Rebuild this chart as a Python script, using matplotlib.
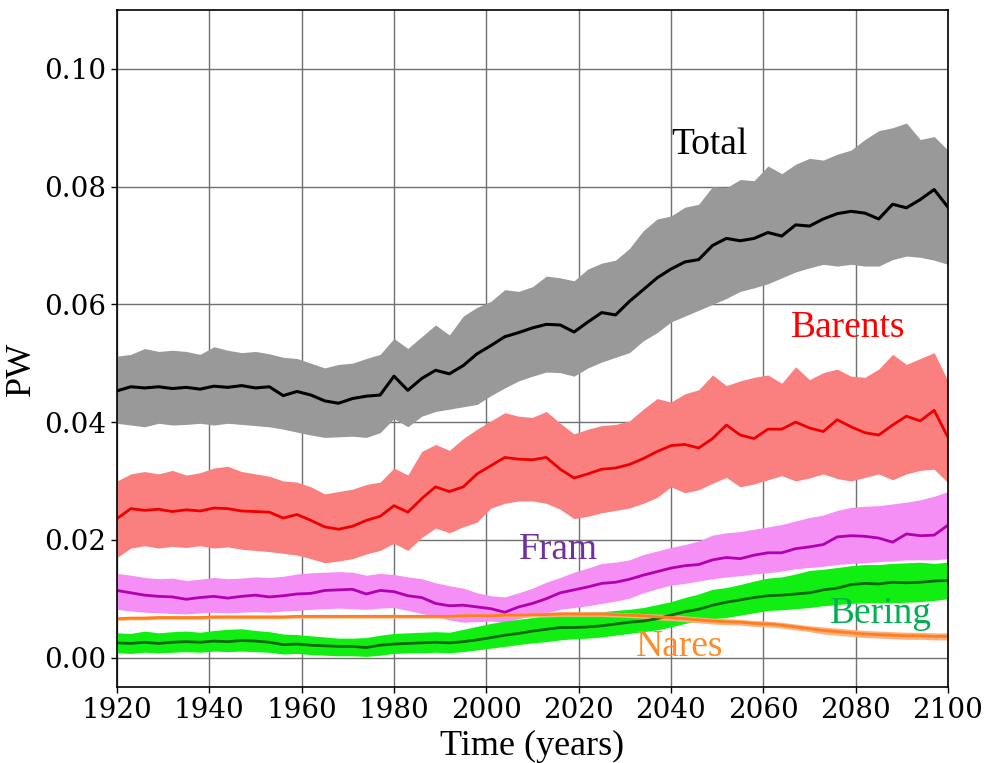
import numpy as np
import matplotlib.pyplot as plt

# years sampled every 3 years, 1920-2100
years = np.arange(1920, 2101, 3)

total_mean = [0.0453, 0.0460, 0.0458, 0.0460, 0.0457, 0.0459, 0.0456, 0.0461, 0.0459, 0.0462,
              0.0458, 0.0460, 0.0445, 0.0452, 0.0446, 0.0436, 0.0432, 0.0440, 0.0444, 0.0446,
              0.0478, 0.0454, 0.0474, 0.0488, 0.0482, 0.0496, 0.0516, 0.0530, 0.0545, 0.0552,
              0.0560, 0.0566, 0.0565, 0.0553, 0.0570, 0.0586, 0.0582, 0.0605, 0.0625, 0.0645,
              0.0660, 0.0672, 0.0676, 0.0700, 0.0712, 0.0708, 0.0712, 0.0722, 0.0716, 0.0735,
              0.0733, 0.0745, 0.0754, 0.0758, 0.0755, 0.0745, 0.0770, 0.0764, 0.0778, 0.0795,
              0.0765]
total_hi = [0.0512, 0.0515, 0.0525, 0.0520, 0.0522, 0.0520, 0.0515, 0.0528, 0.0522, 0.0518,
            0.0520, 0.0516, 0.0510, 0.0508, 0.0500, 0.0492, 0.0498, 0.0500, 0.0508, 0.0515,
            0.0542, 0.0525, 0.0545, 0.0565, 0.0548, 0.0580, 0.0595, 0.0605, 0.0625, 0.0622,
            0.0630, 0.0648, 0.0645, 0.0640, 0.0660, 0.0670, 0.0675, 0.0695, 0.0725, 0.0745,
            0.0750, 0.0765, 0.0770, 0.0800, 0.0798, 0.0812, 0.0810, 0.0835, 0.0822, 0.0838,
            0.0848, 0.0845, 0.0855, 0.0862, 0.0880, 0.0895, 0.0900, 0.0908, 0.0880, 0.0885,
            0.0862]
total_lo = [0.0398, 0.0395, 0.0392, 0.0398, 0.0395, 0.0396, 0.0398, 0.0395, 0.0398, 0.0396,
            0.0394, 0.0392, 0.0388, 0.0383, 0.0378, 0.0374, 0.0375, 0.0376, 0.0374, 0.0382,
            0.0406, 0.0392, 0.0410, 0.0418, 0.0422, 0.0426, 0.0430, 0.0445, 0.0458, 0.0470,
            0.0478, 0.0485, 0.0484, 0.0478, 0.0492, 0.0502, 0.0510, 0.0518, 0.0538, 0.0552,
            0.0570, 0.0580, 0.0590, 0.0600, 0.0610, 0.0622, 0.0628, 0.0635, 0.0645, 0.0655,
            0.0662, 0.0668, 0.0665, 0.0668, 0.0665, 0.0665, 0.0676, 0.0682, 0.0680, 0.0675,
            0.0668]

barents_mean = [0.0236, 0.0253, 0.0250, 0.0252, 0.0248, 0.0251, 0.0249, 0.0254, 0.0253, 0.0249,
                0.0248, 0.0247, 0.0237, 0.0243, 0.0233, 0.0222, 0.0218, 0.0223, 0.0233, 0.0240,
                0.0258, 0.0247, 0.0270, 0.0290, 0.0282, 0.0290, 0.0312, 0.0326, 0.0340, 0.0337,
                0.0336, 0.0340, 0.0320, 0.0305, 0.0312, 0.0320, 0.0322, 0.0328, 0.0338, 0.0350,
                0.0360, 0.0362, 0.0356, 0.0372, 0.0395, 0.0378, 0.0372, 0.0388, 0.0388, 0.0400,
                0.0390, 0.0384, 0.0404, 0.0392, 0.0382, 0.0378, 0.0395, 0.0410, 0.0402, 0.0420,
                0.0374]
barents_hi = [0.0300, 0.0312, 0.0316, 0.0312, 0.0318, 0.0310, 0.0314, 0.0322, 0.0325, 0.0316,
              0.0312, 0.0308, 0.0300, 0.0298, 0.0290, 0.0278, 0.0282, 0.0286, 0.0294, 0.0298,
              0.0322, 0.0310, 0.0350, 0.0362, 0.0352, 0.0372, 0.0388, 0.0402, 0.0416, 0.0410,
              0.0408, 0.0418, 0.0398, 0.0380, 0.0388, 0.0394, 0.0396, 0.0402, 0.0422, 0.0440,
              0.0434, 0.0448, 0.0455, 0.0480, 0.0462, 0.0470, 0.0476, 0.0480, 0.0466, 0.0494,
              0.0472, 0.0484, 0.0490, 0.0478, 0.0476, 0.0490, 0.0515, 0.0498, 0.0508, 0.0518,
              0.0470]
barents_lo = [0.0170, 0.0186, 0.0190, 0.0186, 0.0189, 0.0187, 0.0190, 0.0186, 0.0188, 0.0184,
              0.0182, 0.0180, 0.0177, 0.0174, 0.0168, 0.0161, 0.0164, 0.0168, 0.0176, 0.0182,
              0.0194, 0.0182, 0.0204, 0.0220, 0.0212, 0.0222, 0.0230, 0.0254, 0.0262, 0.0266,
              0.0266, 0.0262, 0.0252, 0.0236, 0.0240, 0.0246, 0.0250, 0.0254, 0.0262, 0.0272,
              0.0290, 0.0280, 0.0285, 0.0296, 0.0306, 0.0290, 0.0295, 0.0302, 0.0309, 0.0300,
              0.0305, 0.0312, 0.0304, 0.0300, 0.0306, 0.0312, 0.0302, 0.0312, 0.0318, 0.0320,
              0.0297]

fram_mean = [0.0114, 0.0110, 0.0106, 0.0104, 0.0103, 0.0099, 0.0102, 0.0104, 0.0101, 0.0104,
             0.0106, 0.0103, 0.0105, 0.0108, 0.0109, 0.0114, 0.0115, 0.0116, 0.0108, 0.0114,
             0.0112, 0.0105, 0.0102, 0.0092, 0.0088, 0.0089, 0.0086, 0.0083, 0.0077, 0.0086,
             0.0092, 0.0100, 0.0110, 0.0115, 0.0120, 0.0126, 0.0128, 0.0133, 0.0140, 0.0146,
             0.0152, 0.0156, 0.0158, 0.0166, 0.0170, 0.0168, 0.0174, 0.0178, 0.0178, 0.0185,
             0.0188, 0.0192, 0.0205, 0.0207, 0.0206, 0.0203, 0.0196, 0.0210, 0.0207, 0.0208,
             0.0225]
fram_hi = [0.0143, 0.0140, 0.0136, 0.0134, 0.0135, 0.0131, 0.0133, 0.0136, 0.0134, 0.0135,
           0.0137, 0.0136, 0.0138, 0.0142, 0.0144, 0.0145, 0.0146, 0.0145, 0.0140, 0.0143,
           0.0141, 0.0137, 0.0134, 0.0127, 0.0122, 0.0118, 0.0110, 0.0105, 0.0103, 0.0110,
           0.0118, 0.0128, 0.0136, 0.0145, 0.0152, 0.0160, 0.0162, 0.0166, 0.0175, 0.0181,
           0.0187, 0.0192, 0.0198, 0.0208, 0.0212, 0.0214, 0.0218, 0.0222, 0.0226, 0.0232,
           0.0238, 0.0242, 0.0250, 0.0255, 0.0257, 0.0258, 0.0261, 0.0264, 0.0268, 0.0274,
           0.0282]
fram_lo = [0.0082, 0.0079, 0.0077, 0.0076, 0.0075, 0.0074, 0.0076, 0.0077, 0.0076, 0.0077,
           0.0078, 0.0077, 0.0079, 0.0080, 0.0082, 0.0083, 0.0084, 0.0083, 0.0082, 0.0084,
           0.0085, 0.0080, 0.0075, 0.0069, 0.0064, 0.0060, 0.0061, 0.0062, 0.0060, 0.0066,
           0.0071, 0.0076, 0.0082, 0.0085, 0.0088, 0.0092, 0.0096, 0.0101, 0.0110, 0.0117,
           0.0123, 0.0126, 0.0130, 0.0134, 0.0137, 0.0139, 0.0142, 0.0144, 0.0147, 0.0151,
           0.0153, 0.0155, 0.0158, 0.0160, 0.0161, 0.0163, 0.0164, 0.0166, 0.0166, 0.0166,
           0.0168]

nares_mean = [0.0066, 0.0067, 0.0067, 0.0068, 0.0068, 0.0068, 0.0068, 0.0069, 0.0069, 0.0069,
              0.0069, 0.0069, 0.0069, 0.0070, 0.0070, 0.0070, 0.0070, 0.0070, 0.0070, 0.0070,
              0.0070, 0.0070, 0.0070, 0.0070, 0.0070, 0.0071, 0.0071, 0.0071, 0.0072, 0.0072,
              0.0073, 0.0073, 0.0074, 0.0074, 0.0074, 0.0074, 0.0073, 0.0072, 0.0071, 0.0069,
              0.0068, 0.0066, 0.0064, 0.0062, 0.0061, 0.0060, 0.0058, 0.0057, 0.0055, 0.0052,
              0.0049, 0.0046, 0.0044, 0.0042, 0.0040, 0.0039, 0.0038, 0.0037, 0.0037, 0.0036,
              0.0036]
nares_spread = [0.0003, 0.0003, 0.0003, 0.0003, 0.0003, 0.0003, 0.0003, 0.0003, 0.0003, 0.0003,
                0.0003, 0.0003, 0.0003, 0.0003, 0.0003, 0.0003, 0.0003, 0.0003, 0.0003, 0.0003,
                0.0003, 0.0003, 0.0003, 0.0003, 0.0003, 0.0003, 0.0003, 0.0003, 0.0003, 0.0004,
                0.0004, 0.0004, 0.0004, 0.0004, 0.0004, 0.0004, 0.0004, 0.0004, 0.0004, 0.0005,
                0.0005, 0.0005, 0.0005, 0.0005, 0.0005, 0.0005, 0.0005, 0.0005, 0.0005, 0.0005,
                0.0005, 0.0006, 0.0006, 0.0006, 0.0006, 0.0006, 0.0006, 0.0006, 0.0006, 0.0006,
                0.0006]

bering_mean = [0.0025, 0.0024, 0.0026, 0.0024, 0.0026, 0.0027, 0.0026, 0.0028, 0.0027, 0.0029,
               0.0028, 0.0026, 0.0022, 0.0023, 0.0021, 0.0020, 0.0019, 0.0019, 0.0017, 0.0021,
               0.0023, 0.0024, 0.0025, 0.0026, 0.0025, 0.0027, 0.0030, 0.0034, 0.0038, 0.0041,
               0.0045, 0.0048, 0.0051, 0.0051, 0.0052, 0.0054, 0.0057, 0.0060, 0.0062, 0.0066,
               0.0072, 0.0078, 0.0082, 0.0089, 0.0094, 0.0098, 0.0102, 0.0105, 0.0106, 0.0108,
               0.0110, 0.0115, 0.0118, 0.0124, 0.0126, 0.0125, 0.0128, 0.0127, 0.0128, 0.0130,
               0.0131]
bering_hi = [0.0042, 0.0041, 0.0045, 0.0042, 0.0044, 0.0045, 0.0043, 0.0046, 0.0048, 0.0049,
             0.0046, 0.0044, 0.0040, 0.0039, 0.0037, 0.0035, 0.0033, 0.0033, 0.0034, 0.0038,
             0.0041, 0.0042, 0.0043, 0.0044, 0.0043, 0.0048, 0.0053, 0.0058, 0.0062, 0.0065,
             0.0068, 0.0071, 0.0074, 0.0075, 0.0076, 0.0078, 0.0080, 0.0082, 0.0085, 0.0090,
             0.0095, 0.0102, 0.0108, 0.0116, 0.0119, 0.0124, 0.0130, 0.0135, 0.0137, 0.0142,
             0.0148, 0.0150, 0.0153, 0.0156, 0.0158, 0.0158, 0.0160, 0.0161, 0.0162, 0.0160,
             0.0162]
bering_lo = [0.0008, 0.0007, 0.0009, 0.0008, 0.0009, 0.0010, 0.0009, 0.0011, 0.0010, 0.0011,
             0.0010, 0.0009, 0.0006, 0.0007, 0.0005, 0.0004, 0.0003, 0.0003, 0.0002, 0.0004,
             0.0007, 0.0008, 0.0008, 0.0009, 0.0008, 0.0010, 0.0013, 0.0016, 0.0019, 0.0022,
             0.0025, 0.0027, 0.0030, 0.0032, 0.0033, 0.0035, 0.0038, 0.0041, 0.0044, 0.0047,
             0.0052, 0.0058, 0.0062, 0.0066, 0.0068, 0.0072, 0.0076, 0.0080, 0.0081, 0.0083,
             0.0085, 0.0088, 0.0090, 0.0092, 0.0093, 0.0093, 0.0093, 0.0094, 0.0095, 0.0097,
             0.0100]

fig = plt.figure(figsize=(9.88, 7.63), dpi=100)
ax = fig.add_axes([0.1184, 0.0996, 0.8411, 0.8873])
ax.set_axisbelow(True)
ax.grid(True, color='#707070', linewidth=1.0)

ax.fill_between(years, total_lo, total_hi, color='#999999', linewidth=0)
ax.plot(years, total_mean, color='black', linewidth=2.2)

ax.fill_between(years, barents_lo, barents_hi, color='#fa8080', linewidth=0)
ax.plot(years, barents_mean, color='#ee0000', linewidth=2.0)

ax.fill_between(years, fram_lo, fram_hi, color='#f58ef5', linewidth=0)
ax.plot(years, fram_mean, color='#b000b0', linewidth=2.0)

ax.fill_between(years, bering_lo, bering_hi, color='#11ee11', linewidth=0)
ax.plot(years, bering_mean, color='#0a6a0a', linewidth=2.0)

nm = np.array(nares_mean)
ns = np.array(nares_spread)
ax.fill_between(years, nm - ns, nm + ns, color='#ffb080', linewidth=0)
ax.plot(years, nm, color='#ff7f1e', linewidth=2.0)

tf = 'Liberation Serif'
ax.text(2040, 0.0855, 'Total', fontsize=27, family=tf, color='black')
ax.text(2066, 0.0545, 'Barents', fontsize=27, family=tf, color='#ff0000')
ax.text(2007, 0.0168, 'Fram', fontsize=27, family=tf, color='#7030a0')
ax.text(2032.5, 0.0003, 'Nares', fontsize=27, family=tf, color='#ff8c2a')
ax.text(2074.5, 0.0058, 'Bering', fontsize=27, family=tf, color='#00b050')

ax.set_xlim(1920, 2100)
ax.set_ylim(-0.005, 0.11)
ax.set_xticks(np.arange(1920, 2101, 20))
ax.set_yticks([0.0, 0.02, 0.04, 0.06, 0.08, 0.10])
ax.set_yticklabels(['0.00', '0.02', '0.04', '0.06', '0.08', '0.10'])
for lab in ax.get_xticklabels() + ax.get_yticklabels():
    lab.set_family('DejaVu Serif')
    lab.set_fontsize(20)
ax.tick_params(length=4, width=1)
for s in ax.spines.values():
    s.set_linewidth(1.2)

ax.set_xlabel('Time (years)', fontsize=26, family=tf, labelpad=4)
ax.set_ylabel('PW', fontsize=26, family=tf)
ax.yaxis.set_label_coords(-0.095, 0.47)

fig.savefig('out.png', dpi=100)
